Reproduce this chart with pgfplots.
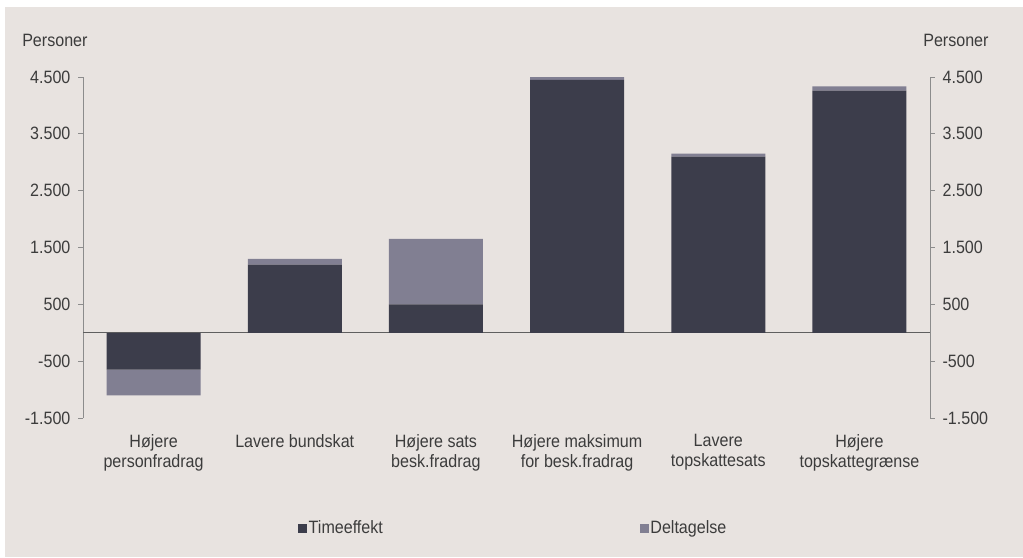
\documentclass[border=0pt]{standalone}
\usepackage{fontspec}
\setmainfont{Liberation Sans}[FakeStretch=0.9]
\usepackage{pgfplots}
\pgfplotsset{compat=1.18}
\definecolor{bg}{RGB}{232,227,224}
\definecolor{darkbar}{RGB}{60,61,75}
\definecolor{lightbar}{RGB}{129,127,146}
\definecolor{txt}{RGB}{60,60,60}
\definecolor{axgray}{RGB}{140,140,140}
\definecolor{zerogray}{RGB}{95,95,95}
\newcommand\ffont{\fontsize{13.4}{15}\selectfont}
\begin{document}
\begin{tikzpicture}
\useasboundingbox (0,0) rectangle (767.25pt,417.75pt);
\fill[white] (0,0) rectangle (767.25pt,417.75pt);
\fill[bg] (3.75pt,0) rectangle (767.25pt,412.5pt);
\begin{axis}[
  at={(62.25pt,104.25pt)}, anchor=south west,
  width=635.25pt, height=255.75pt, scale only axis,
  xmin=-0.5, xmax=5.5, ymin=-1500, ymax=4500,
  ybar stacked, bar width=70.5pt,
  separate axis lines,
  x axis line style={draw=none},
  y axis line style={draw=axgray, line width=0.6pt},
  xtick={0,1,2,3,4,5},
  xticklabels={{Højere\\personfradrag},{Lavere bundskat},{Højere sats\\besk.fradrag},{Højere maksimum\\for besk.fradrag},{Lavere\\topskattesats},{Højere\\topskattegrænse}},
  xtick style={draw=none},
  xticklabel style={align=center, font=\fontsize{13.4}{15}\selectfont, text=txt, yshift=-5.5pt},
  ytick={-1500,-500,500,1500,2500,3500,4500},
  yticklabels={-1.500,-500,500,1.500,2.500,3.500,4.500},
  ytick pos=both, yticklabel pos=left,
  tick align=outside, major tick length=3.4pt,
  ytick style={draw=axgray, line width=0.6pt},
  yticklabel style={font=\ffont, text=txt, xshift=-2.5pt},
  axis background/.style={fill=none},
  legend columns=2,
  legend style={at={(0.254,-0.323)}, anchor=west, draw=none, fill=none, inner sep=0pt,
    font=\ffont, text=txt, nodes={inner sep=1pt}},
]
\addplot[fill=darkbar, draw=none, legend image code/.code={\fill[darkbar] (0pt,-3.6pt) rectangle (6.75pt,3.2pt);}]
  coordinates {(0,-650) (1,1200) (2,500) (3,4450) (4,3100) (5,4260)};
\addlegendentry{\makebox[247.5pt][l]{Timeeffekt}}
\addplot[fill=lightbar, draw=none, legend image code/.code={\fill[lightbar] (0pt,-3.6pt) rectangle (6.75pt,3.2pt);}]
  coordinates {(0,-450) (1,100) (2,1150) (3,65) (4,50) (5,75)};
\addlegendentry{Deltagelse}
\draw[zerogray, line width=0.7pt] (axis cs:-0.5,0) -- (axis cs:5.5,0);
\end{axis}
\begin{axis}[
  at={(62.25pt,104.25pt)}, anchor=south west,
  width=635.25pt, height=255.75pt, scale only axis,
  xmin=-0.5, xmax=5.5, ymin=-1500, ymax=4500,
  axis line style={draw=none},
  xtick=\empty,
  ytick={-1500,-500,500,1500,2500,3500,4500},
  yticklabels={-1.500,-500,500,1.500,2.500,3.500,4.500},
  ytick pos=right, yticklabel pos=right,
  tick align=outside, major tick length=3.4pt,
  ytick style={draw=none},
  yticklabel style={font=\ffont, text=txt, xshift=2.5pt},
]
\end{axis}
\node[anchor=base west, inner sep=0pt, font=\ffont, text=txt] at (16.5pt,382.5pt) {Personer};
\node[anchor=base west, inner sep=0pt, font=\ffont, text=txt] at (692.25pt,382.5pt) {Personer};
\end{tikzpicture}
\end{document}
